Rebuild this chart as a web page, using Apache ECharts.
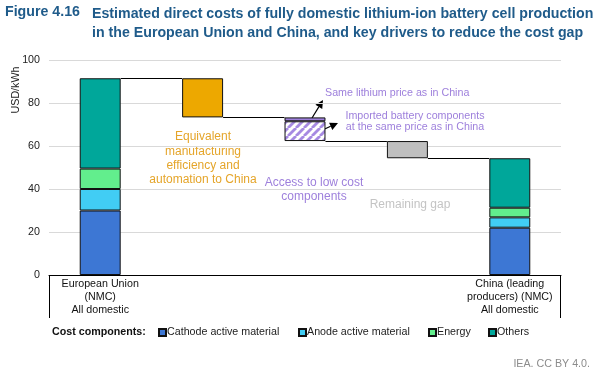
<!DOCTYPE html>
<html><head><meta charset="utf-8">
<script src="https://cdn.jsdelivr.net/npm/echarts@6/dist/echarts.min.js"></script>
<style>html,body{margin:0;padding:0;background:#fff}#c{width:600px;height:377px}</style>
</head><body><div id="c"></div>
<script>
// ---- data ----
const categories = ['eu', 'mfg', 'comp', 'gap', 'cn'];
const categoryLabels = ['European Union\n(NMC)\nAll domestic', '', '', '', 'China (leading\nproducers) (NMC)\nAll domestic'];
const seriesNames = ['Cathode active material', 'Anode active material', 'Energy', 'Others'];
const cathode = [30, null, null, null, 22];
const anode = [10, null, null, null, 4.8];
const energy = [9.5, null, null, null, 4.5];
const others = [42, null, null, null, 23];
const manufacturing = [null, 18.2, null, null, null];
const lithium = [null, null, 1.8, null, null];
const imported = [null, null, 9.2, null, null];
const remaining = [null, null, null, 8, null];
const yTicks = [0, 20, 40, 60, 80, 100];

// ---- derived waterfall levels ----
const euTotal = cathode[0] + anode[0] + energy[0] + others[0];
const levels = [euTotal];
const base = [null, null, null, null, null];
for (let i = 1; i <= 3; i++) {
  const drop = (manufacturing[i] || 0) + (lithium[i] || 0) + (imported[i] || 0) + (remaining[i] || 0);
  levels[i] = +(levels[i - 1] - drop).toFixed(3);
  base[i] = levels[i];
}
const connectors = levels.map((v, i) => [i, v]);

const FONT = "'Liberation Sans', Arial, sans-serif";
const C = {cathode:'#3d77d4', anode:'#41cdf4', energy:'#62ee8d', others:'#00a79a',
  orange:'#eda800', purple:'#9e80dc', gray:'#bfbfbf', title:'#1f5b8a'};

// hatch pattern
const pc = document.createElement('canvas'); pc.width = 8; pc.height = 8;
const g = pc.getContext('2d'); g.fillStyle = '#fff'; g.fillRect(0, 0, 8, 8);
g.strokeStyle = '#a68ae2'; g.lineWidth = 2.8;
for (const o of [-8, 0, 8]) { g.beginPath(); g.moveTo(o, 8); g.lineTo(o + 8, 0); g.stroke(); }

const border = {borderColor:'#111', borderWidth:1};
function compSeries(name, data, color) {
  return {name, type:'bar', stack:'comp', data, barWidth:'40%', barGap:'-100%',
    itemStyle:Object.assign({color}, border), emphasis:{disabled:true}};
}
function wfSeries(name, data, style) {
  return {name, type:'bar', stack:'wf', data, barWidth:'40%', barGap:'-100%',
    itemStyle:style, emphasis:{disabled:true}};
}
function arrow(x1, y1, x2, y2) {
  const dx = x2 - x1, dy = y2 - y1, L = Math.hypot(dx, dy), ux = dx / L, uy = dy / L;
  const hl = 8, hw = 4;
  const bx = x2 - ux * hl, by = y2 - uy * hl;
  return [
    {type:'line', shape:{x1, y1, x2:bx, y2:by}, style:{stroke:'#000', lineWidth:1.2}},
    {type:'polygon', shape:{points:[[x2, y2], [bx - uy * hw, by + ux * hw], [bx + uy * hw, by - ux * hw]]}, style:{fill:'#000'}}
  ];
}
const legendX = [158, 298, 428, 488];

const chart = echarts.init(document.getElementById('c'), null, {renderer:'canvas'});
chart.setOption({
  animation:false,
  grid:{left:49, right:39, top:60, bottom:102},
  xAxis:{type:'category', data:categories,
    axisLine:{lineStyle:{color:'#000', width:1}}, axisTick:{show:false},
    axisLabel:{interval:0, formatter:(v, i) => categoryLabels[i], fontFamily:FONT, fontSize:10.7, color:'#111', lineHeight:13, margin:3}},
  yAxis:{type:'value', min:yTicks[0], max:yTicks[yTicks.length - 1], interval:20,
    axisLine:{show:false}, axisTick:{show:false},
    splitLine:{lineStyle:{color:'#d9d9d9', width:1}},
    axisLabel:{fontFamily:FONT, fontSize:10.7, color:'#222', margin:9}},
  legend:seriesNames.map((n, i) => ({data:[n], left:legendX[i], top:327, icon:'rect', itemWidth:7, itemHeight:7, selectedMode:false,
    padding:0, textStyle:{fontFamily:FONT, fontSize:10.7, color:'#222', padding:[0, 0, 0, -4]}})),
  series:[
    compSeries(seriesNames[0], cathode, C.cathode),
    compSeries(seriesNames[1], anode, C.anode),
    compSeries(seriesNames[2], energy, C.energy),
    compSeries(seriesNames[3], others, C.others),
    wfSeries('base', base, {color:'transparent'}),
    wfSeries('Equivalent manufacturing', manufacturing, Object.assign({color:C.orange}, border)),
    wfSeries('Imported components', imported, Object.assign({color:{image:pc, repeat:'repeat'}}, border)),
    wfSeries('Same lithium price', lithium, Object.assign({color:C.purple}, border)),
    wfSeries('Remaining gap', remaining, Object.assign({color:C.gray}, border)),
    {type:'custom', name:'connectors', data:connectors, encode:{x:0, y:1}, z:5,
      renderItem:(params, api) => {
        const p = api.coord([api.value(0), api.value(1)]);
        const bw = api.size([1, 0])[0];
        const half = bw * 0.2;
        const y = Math.round(p[1]) + 0.5;
        return {type:'line', shape:{x1:p[0] + half, y1:y, x2:p[0] + bw - half, y2:y}, style:{stroke:'#000', lineWidth:1}};
      }}
  ],
  graphic:[
    {type:'text', left:5, top:5, style:{text:'Figure 4.16', font:`bold 14.2px ${FONT}`, fill:C.title}},
    {type:'text', left:92, top:5, style:{text:'Estimated direct costs of fully domestic lithium-ion battery cell production\nin the European Union and China, and key drivers to reduce the cost gap',
      font:`bold 14.2px ${FONT}`, fill:C.title, lineHeight:19}},
    {type:'text', x:16, y:90, rotation:Math.PI / 2, style:{text:'USD/kWh', font:`10.7px ${FONT}`, fill:'#222', align:'center', verticalAlign:'middle'}},
    {type:'line', shape:{x1:49.5, y1:275, x2:49.5, y2:318}, style:{stroke:'#000', lineWidth:1}},
    {type:'line', shape:{x1:560.5, y1:275, x2:560.5, y2:318}, style:{stroke:'#000', lineWidth:1}},
    {type:'text', left:52, top:327, style:{text:'Cost components:', font:`bold 10.7px ${FONT}`, fill:'#111'}},
    {type:'text', x:203, y:130, style:{text:'Equivalent\nmanufacturing\nefficiency and\nautomation to China', font:`12px ${FONT}`, fill:'#e5a52a', align:'center', lineHeight:14.3}},
    {type:'text', x:314, y:176, style:{text:'Access to low cost\ncomponents', font:`12px ${FONT}`, fill:C.purple, align:'center', lineHeight:14}},
    {type:'text', x:410, y:199, style:{text:'Remaining gap', font:`12px ${FONT}`, fill:'#c4c4c4', align:'center'}},
    {type:'text', x:325, y:88, style:{text:'Same lithium price as in China', font:`10.7px ${FONT}`, fill:C.purple}},
    {type:'text', x:415, y:110, style:{text:'Imported battery components\nat the same price as in China', font:`10.7px ${FONT}`, fill:C.purple, align:'center', lineHeight:11.2}},
    ...arrow(312, 118, 323, 100),
    ...arrow(318, 132, 338, 123),
    {type:'text', right:10, top:359, style:{text:'IEA. CC BY 4.0.', font:`10.7px ${FONT}`, fill:'#8c8c8c'}}
  ]
});
</script></body></html>
